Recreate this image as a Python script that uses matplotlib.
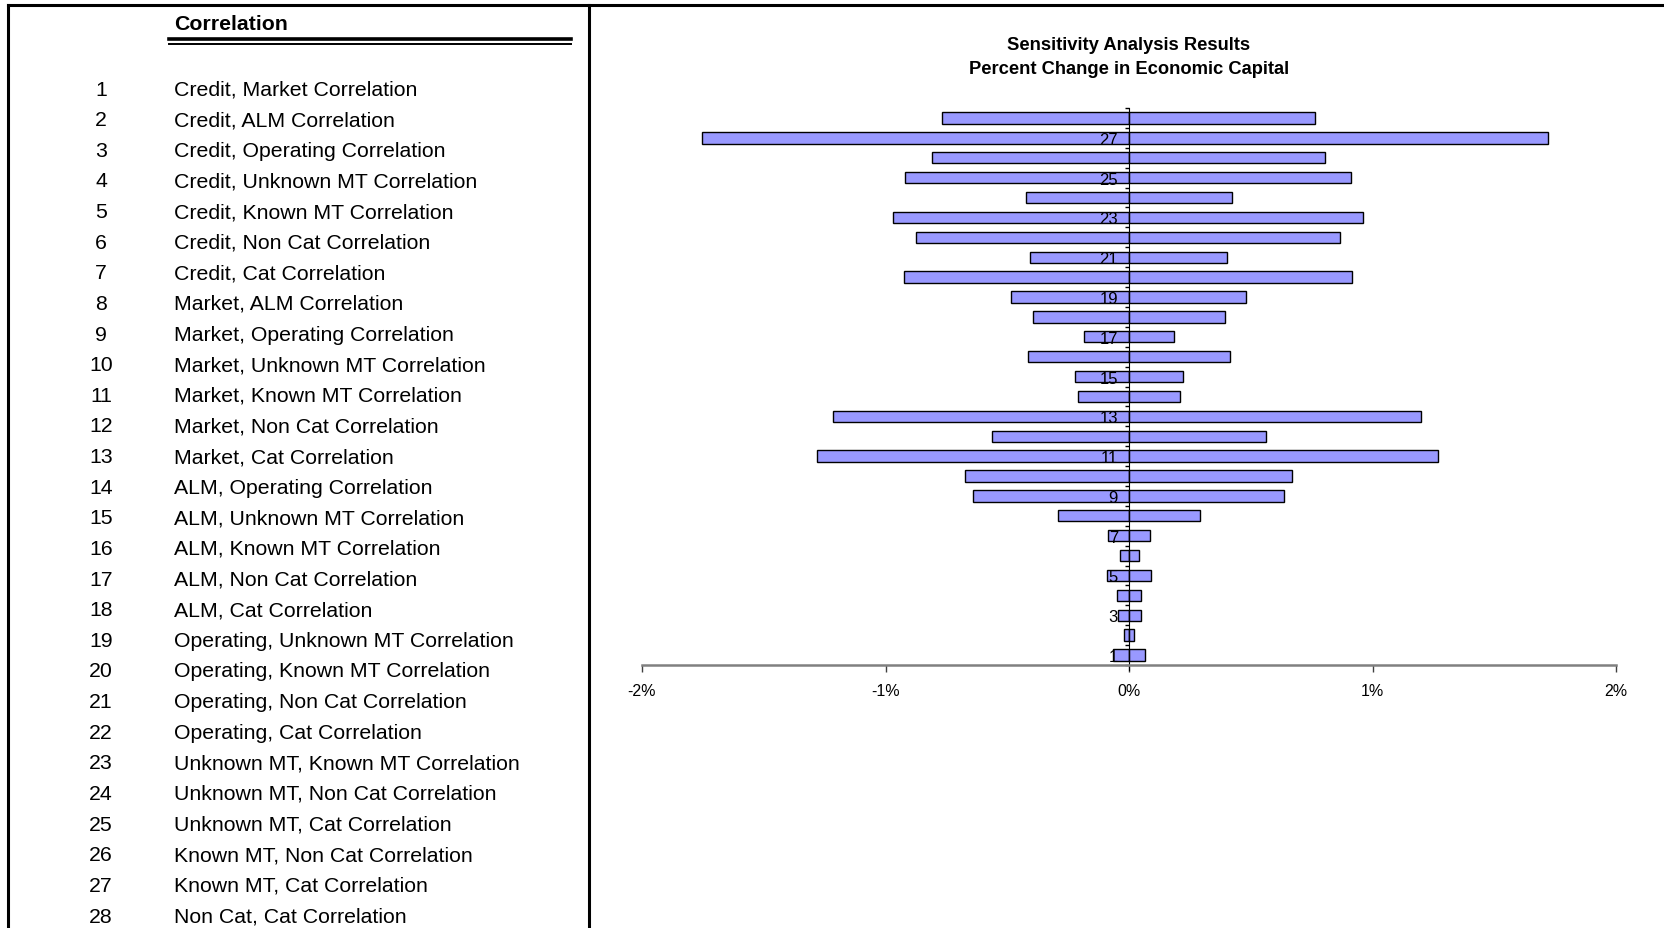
import matplotlib.pyplot as plt
from matplotlib.lines import Line2D
from matplotlib.ticker import FuncFormatter, FixedLocator

plt.rcParams['font.family'] = ['Liberation Sans', 'DejaVu Sans']

# correlation pairs, numbered 1..28
pairs = [
    "Credit, Market Correlation", "Credit, ALM Correlation", "Credit, Operating Correlation",
    "Credit, Unknown MT Correlation", "Credit, Known MT Correlation", "Credit, Non Cat Correlation",
    "Credit, Cat Correlation", "Market, ALM Correlation", "Market, Operating Correlation",
    "Market, Unknown MT Correlation", "Market, Known MT Correlation", "Market, Non Cat Correlation",
    "Market, Cat Correlation", "ALM, Operating Correlation", "ALM, Unknown MT Correlation",
    "ALM, Known MT Correlation", "ALM, Non Cat Correlation", "ALM, Cat Correlation",
    "Operating, Unknown MT Correlation", "Operating, Known MT Correlation",
    "Operating, Non Cat Correlation", "Operating, Cat Correlation",
    "Unknown MT, Known MT Correlation", "Unknown MT, Non Cat Correlation",
    "Unknown MT, Cat Correlation", "Known MT, Non Cat Correlation",
    "Known MT, Cat Correlation", "Non Cat, Cat Correlation",
]
ids = list(range(1, 29))

# percent change in economic capital (down / up)
down = [-0.064, -0.020, -0.046, -0.048, -0.090, -0.039, -0.086, -0.290, -0.640, -0.673,
        -1.283, -0.563, -1.216, -0.209, -0.220, -0.416, -0.183, -0.396, -0.484, -0.922,
        -0.405, -0.873, -0.970, -0.425, -0.919, -0.810, -1.752, -0.768]
up = [0.066, 0.022, 0.048, 0.050, 0.092, 0.042, 0.088, 0.290, 0.638, 0.671,
      1.269, 0.563, 1.201, 0.209, 0.220, 0.416, 0.185, 0.394, 0.482, 0.915,
      0.403, 0.867, 0.963, 0.425, 0.911, 0.805, 1.721, 0.765]

W, H = 1664, 929
fig = plt.figure(figsize=(W / 100, H / 100), dpi=100)


def fx(px):
    return px / W


def fy(py):
    return 1 - py / H


# frame lines
for xs, ys, lw in [([8, W], [6, 6], 2.2), ([8, 8], [6, H], 2.2), ([589, 589], [6, H], 2.2),
                   ([169, 571], [39.5, 39.5], 2.6), ([169, 571], [44.5, 44.5], 1.4)]:
    fig.add_artist(Line2D([fx(x) for x in xs], [fy(y) for y in ys], color='black', lw=lw))

# left table
fig.text(fx(174), fy(24), "Correlation", fontsize=15.3, fontweight='bold', va='center', ha='left')
for i, (n, name) in enumerate(zip(ids, pairs)):
    y = 90 + i * 30.63
    fig.text(fx(101), fy(y), str(n), fontsize=15.3, va='center', ha='center')
    fig.text(fx(174), fy(y), name, fontsize=15.3, va='center', ha='left')

# chart
fig.text(fx(1129), fy(57.5), "Sensitivity Analysis Results\nPercent Change in Economic Capital",
         fontsize=13.2, fontweight='bold', ha='center', va='center', linespacing=1.6)

ax = fig.add_axes([fx(642), fy(666), fx(1616) - fx(642), (666 - 109) / H])
ax.barh(ids, down, height=0.57, color='#9999ff', edgecolor='black', linewidth=1)
ax.barh(ids, up, height=0.57, color='#9999ff', edgecolor='black', linewidth=1)

ax.set_xlim(-2, 2)
ax.set_ylim(0.5, 28.5)
ax.set_xticks([-2, -1, 0, 1, 2])
ax.xaxis.set_major_formatter(FuncFormatter(lambda v, p: f"{v:.0f}%"))
ax.tick_params(axis='x', direction='out', length=5, width=1, color='#404040', pad=8, labelsize=11.5)

ax.yaxis.set_major_locator(FixedLocator(ids[::2]))
ax.yaxis.set_minor_locator(FixedLocator([k + 0.5 for k in range(0, 29)]))
ax.tick_params(axis='y', which='major', length=0, pad=8, labelsize=12)
ax.tick_params(axis='y', which='minor', direction='out', length=3, width=1, color='black')

for s in ['top', 'right']:
    ax.spines[s].set_visible(False)
ax.spines['left'].set_position(('data', 0))
ax.spines['left'].set_bounds(0.25, 28.5)
ax.spines['bottom'].set_color('#808080')
ax.spines['bottom'].set_linewidth(1.8)

fig.savefig("out.png", dpi=100)
